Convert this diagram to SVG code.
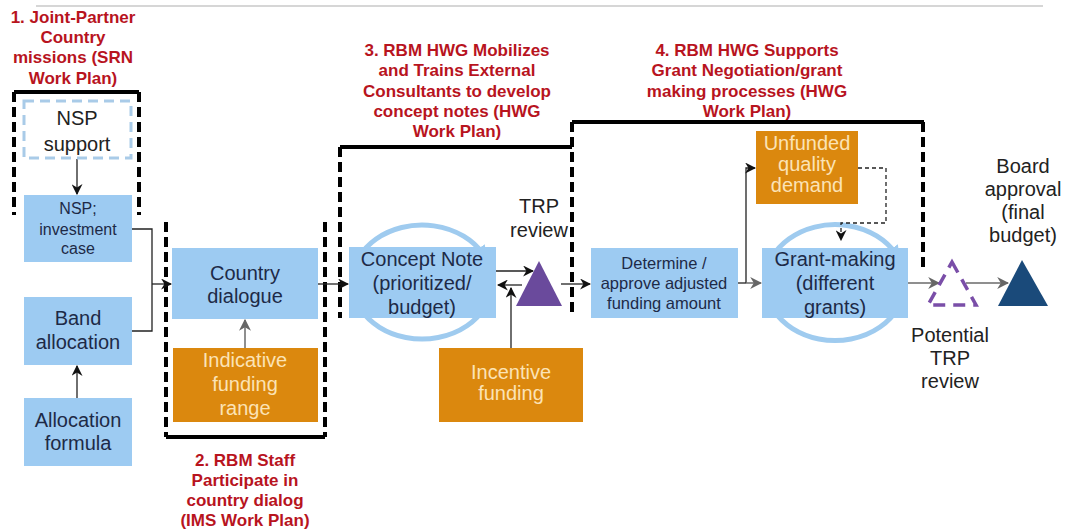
<svg xmlns="http://www.w3.org/2000/svg" width="1067" height="532" viewBox="0 0 1067 532">
  <style>
    .box { fill: #9dcbf2; }
    .org { fill: #db880e; }
    .t { font-family: "Liberation Sans", Arial, sans-serif; font-size: 20px; fill: #1d2a47; text-anchor: middle; }
    .ts { font-size: 16px; }
    .tm { font-size: 16.5px; }
    .to { fill: #fbe3b6; }
    .tk { fill: #222222; }
    .lbl { font-family: "Liberation Sans", Arial, sans-serif; font-size: 17px; font-weight: bold; fill: #b8141e; text-anchor: middle; }
    .brk { fill: none; stroke: #000; stroke-width: 4; }
    .dsh { stroke-dasharray: 10 5; }
    .c { fill: none; stroke: #222; stroke-width: 1.3; }
    .cg { fill: none; stroke: #6a6a6a; stroke-width: 1.5; }
    .loop { fill: none; stroke: #9fcbef; stroke-width: 5; }
  </style>
  <defs>
    <marker id="ah" viewBox="0 0 10 10" refX="9" refY="5" markerWidth="11" markerHeight="11" markerUnits="userSpaceOnUse" orient="auto">
      <path d="M0,0 L10,5 L0,10 L3,5 z" fill="#111"/>
    </marker>
    <marker id="ahg" viewBox="0 0 10 10" refX="9" refY="5" markerWidth="12" markerHeight="12" markerUnits="userSpaceOnUse" orient="auto">
      <path d="M0,0 L10,5 L0,10 L3,5 z" fill="#666"/>
    </marker>
    <marker id="ahl" viewBox="0 0 10 10" refX="5" refY="5" markerWidth="14" markerHeight="14" markerUnits="userSpaceOnUse" orient="auto">
      <path d="M0,0 L10,5 L0,10 z" fill="#9fcbef"/>
    </marker>
  </defs>

  <rect width="1067" height="532" fill="#ffffff"/>
  <!-- header rule -->
  <line x1="36" y1="6" x2="1043" y2="6" stroke="#c8c8c8" stroke-width="1.5"/>

  <!-- work-plan brackets -->
  <g id="brackets">
    <path class="brk" d="M14,92 H139"/>
    <path class="brk dsh" d="M14,92 V215 M139,92 V215"/>
    <path class="brk dsh" d="M166,222 V437 M325,222 V437"/>
    <path class="brk" d="M166,437 H325"/>
    <path class="brk" d="M340,147 H572"/>
    <path class="brk dsh" d="M340,147 V318"/>
    <path class="brk dsh" d="M572,122 V317"/>
    <path class="brk" d="M572,122 H924"/>
    <path class="brk dsh" d="M923,122 V272"/>
  </g>

  <!-- work-plan labels -->
  <g id="label-1">
    <text class="lbl" x="73" y="23">1. Joint-Partner</text>
    <text class="lbl" x="73" y="43">Country</text>
    <text class="lbl" x="73" y="63">missions (SRN</text>
    <text class="lbl" x="73" y="84">Work Plan)</text>
  </g>
  <g id="label-2">
    <text class="lbl" x="245" y="466">2. RBM Staff</text>
    <text class="lbl" x="245" y="486">Participate in</text>
    <text class="lbl" x="245" y="506">country dialog</text>
    <text class="lbl" x="245" y="526">(IMS Work Plan)</text>
  </g>
  <g id="label-3">
    <text class="lbl" x="457" y="56">3. RBM HWG Mobilizes</text>
    <text class="lbl" x="457" y="76">and Trains External</text>
    <text class="lbl" x="457" y="97">Consultants to develop</text>
    <text class="lbl" x="457" y="117">concept notes (HWG</text>
    <text class="lbl" x="457" y="137">Work Plan)</text>
  </g>
  <g id="label-4">
    <text class="lbl" x="747" y="56">4. RBM HWG Supports</text>
    <text class="lbl" x="747" y="76">Grant Negotiation/grant</text>
    <text class="lbl" x="747" y="97">making processes (HWG</text>
    <text class="lbl" x="747" y="117">Work Plan)</text>
  </g>

  <!-- iteration loops behind the two process boxes -->
  <path class="loop" marker-end="url(#ahl)" d="M485,307 A70,57 0 1 1 483,254"/>
  <path class="loop" marker-end="url(#ahl)" d="M898,308 A70,58 0 1 1 896,254"/>

  <!-- connectors -->
  <g id="connectors">
    <path class="c" marker-end="url(#ah)" d="M77,159 V194"/>
    <path class="c" marker-end="url(#ah)" d="M77,398 V366"/>
    <path class="c" d="M132,229 H152 V331 H132"/>
    <path class="c" marker-end="url(#ah)" d="M152,284 H171"/>
    <path class="cg" marker-end="url(#ahg)" d="M245,348 V320"/>
    <path class="c" marker-end="url(#ah)" d="M318,284 H348"/>
    <path class="c" marker-end="url(#ah)" d="M496,271 H533"/>
    <path class="c" marker-end="url(#ah)" d="M522,285 H498"/>
    <path class="c" marker-end="url(#ah)" d="M511,348 V288"/>
    <path class="c" marker-end="url(#ah)" d="M561,284 H590"/>
    <path class="c" d="M738,283 H746"/>
    <path class="c" marker-end="url(#ah)" d="M746,283 V168 H755"/>
    <path class="cg" marker-end="url(#ahg)" d="M746,283 H761"/>
    <path class="c" stroke-dasharray="4 3" marker-end="url(#ah)" d="M858,168 H886 V223 H841 V240"/>
    <path class="cg" marker-end="url(#ahg)" d="M908,283 H939"/>
    <path class="cg" marker-end="url(#ahg)" d="M966,283 H1008"/>
  </g>

  <!-- nodes -->
  <g id="nsp-support">
    <rect x="24" y="101" width="107" height="57" fill="#fff" stroke="#a9cbe8" stroke-width="3" stroke-dasharray="10 6"/>
    <text class="t tk" x="77" y="125">NSP</text>
    <text class="t tk" x="77" y="151">support</text>
  </g>
  <g id="nsp-investment">
    <rect class="box" x="24" y="195" width="108" height="67"/>
    <text class="t ts" x="78" y="214">NSP;</text>
    <text class="t ts" x="78" y="235">investment</text>
    <text class="t ts" x="78" y="254">case</text>
  </g>
  <g id="band-allocation">
    <rect class="box" x="24" y="297" width="108" height="68"/>
    <text class="t" x="78" y="325">Band</text>
    <text class="t" x="78" y="349">allocation</text>
  </g>
  <g id="allocation-formula">
    <rect class="box" x="24" y="398" width="108" height="68"/>
    <text class="t" x="78" y="427">Allocation</text>
    <text class="t" x="78" y="450">formula</text>
  </g>
  <g id="country-dialogue">
    <rect class="box" x="172" y="248" width="146" height="71"/>
    <text class="t" x="245" y="280">Country</text>
    <text class="t" x="245" y="303">dialogue</text>
  </g>
  <g id="indicative-funding">
    <rect class="org" x="173" y="348" width="145" height="74"/>
    <text class="t to" x="245" y="367">Indicative</text>
    <text class="t to" x="245" y="391">funding</text>
    <text class="t to" x="245" y="415">range</text>
  </g>
  <g id="concept-note">
    <rect class="box" x="349" y="247" width="147" height="71"/>
    <text class="t" x="422" y="266">Concept Note</text>
    <text class="t" x="422" y="290">(prioritized/</text>
    <text class="t" x="422" y="314">budget)</text>
  </g>
  <g id="trp-review">
    <polygon points="539,261 562,306 516,306" fill="#6a4a9c"/>
    <text class="t tk" x="539" y="213">TRP</text>
    <text class="t tk" x="539" y="237">review</text>
  </g>
  <g id="incentive-funding">
    <rect class="org" x="439" y="348" width="144" height="74"/>
    <text class="t to" x="511" y="379">Incentive</text>
    <text class="t to" x="511" y="400">funding</text>
  </g>
  <g id="determine-amount">
    <rect class="box" x="591" y="248" width="147" height="70"/>
    <text class="t tm" x="664" y="269">Determine /</text>
    <text class="t tm" x="664" y="289">approve adjusted</text>
    <text class="t tm" x="664" y="309">funding  amount</text>
  </g>
  <g id="unfunded-demand">
    <rect class="org" x="756" y="131" width="102" height="73"/>
    <text class="t to" x="807" y="150">Unfunded</text>
    <text class="t to" x="807" y="171">quality</text>
    <text class="t to" x="807" y="192">demand</text>
  </g>
  <g id="grant-making">
    <rect class="box" x="762" y="248" width="146" height="70"/>
    <text class="t" x="835" y="266">Grant-making</text>
    <text class="t" x="835" y="290">(different</text>
    <text class="t" x="835" y="314">grants)</text>
  </g>
  <g id="potential-trp">
    <polygon points="952,262 976,305 928,305" fill="none" stroke="#7a4ea8" stroke-width="3.5" stroke-dasharray="12 8"/>
    <text class="t tk" x="950" y="342">Potential</text>
    <text class="t tk" x="950" y="365">TRP</text>
    <text class="t tk" x="950" y="388">review</text>
  </g>
  <g id="board-approval">
    <polygon points="1022,260 1048,306 998,306" fill="#1a4a7a"/>
    <text class="t tk" x="1023" y="173">Board</text>
    <text class="t tk" x="1023" y="196">approval</text>
    <text class="t tk" x="1023" y="219">(final</text>
    <text class="t tk" x="1023" y="242">budget)</text>
  </g>
</svg>
